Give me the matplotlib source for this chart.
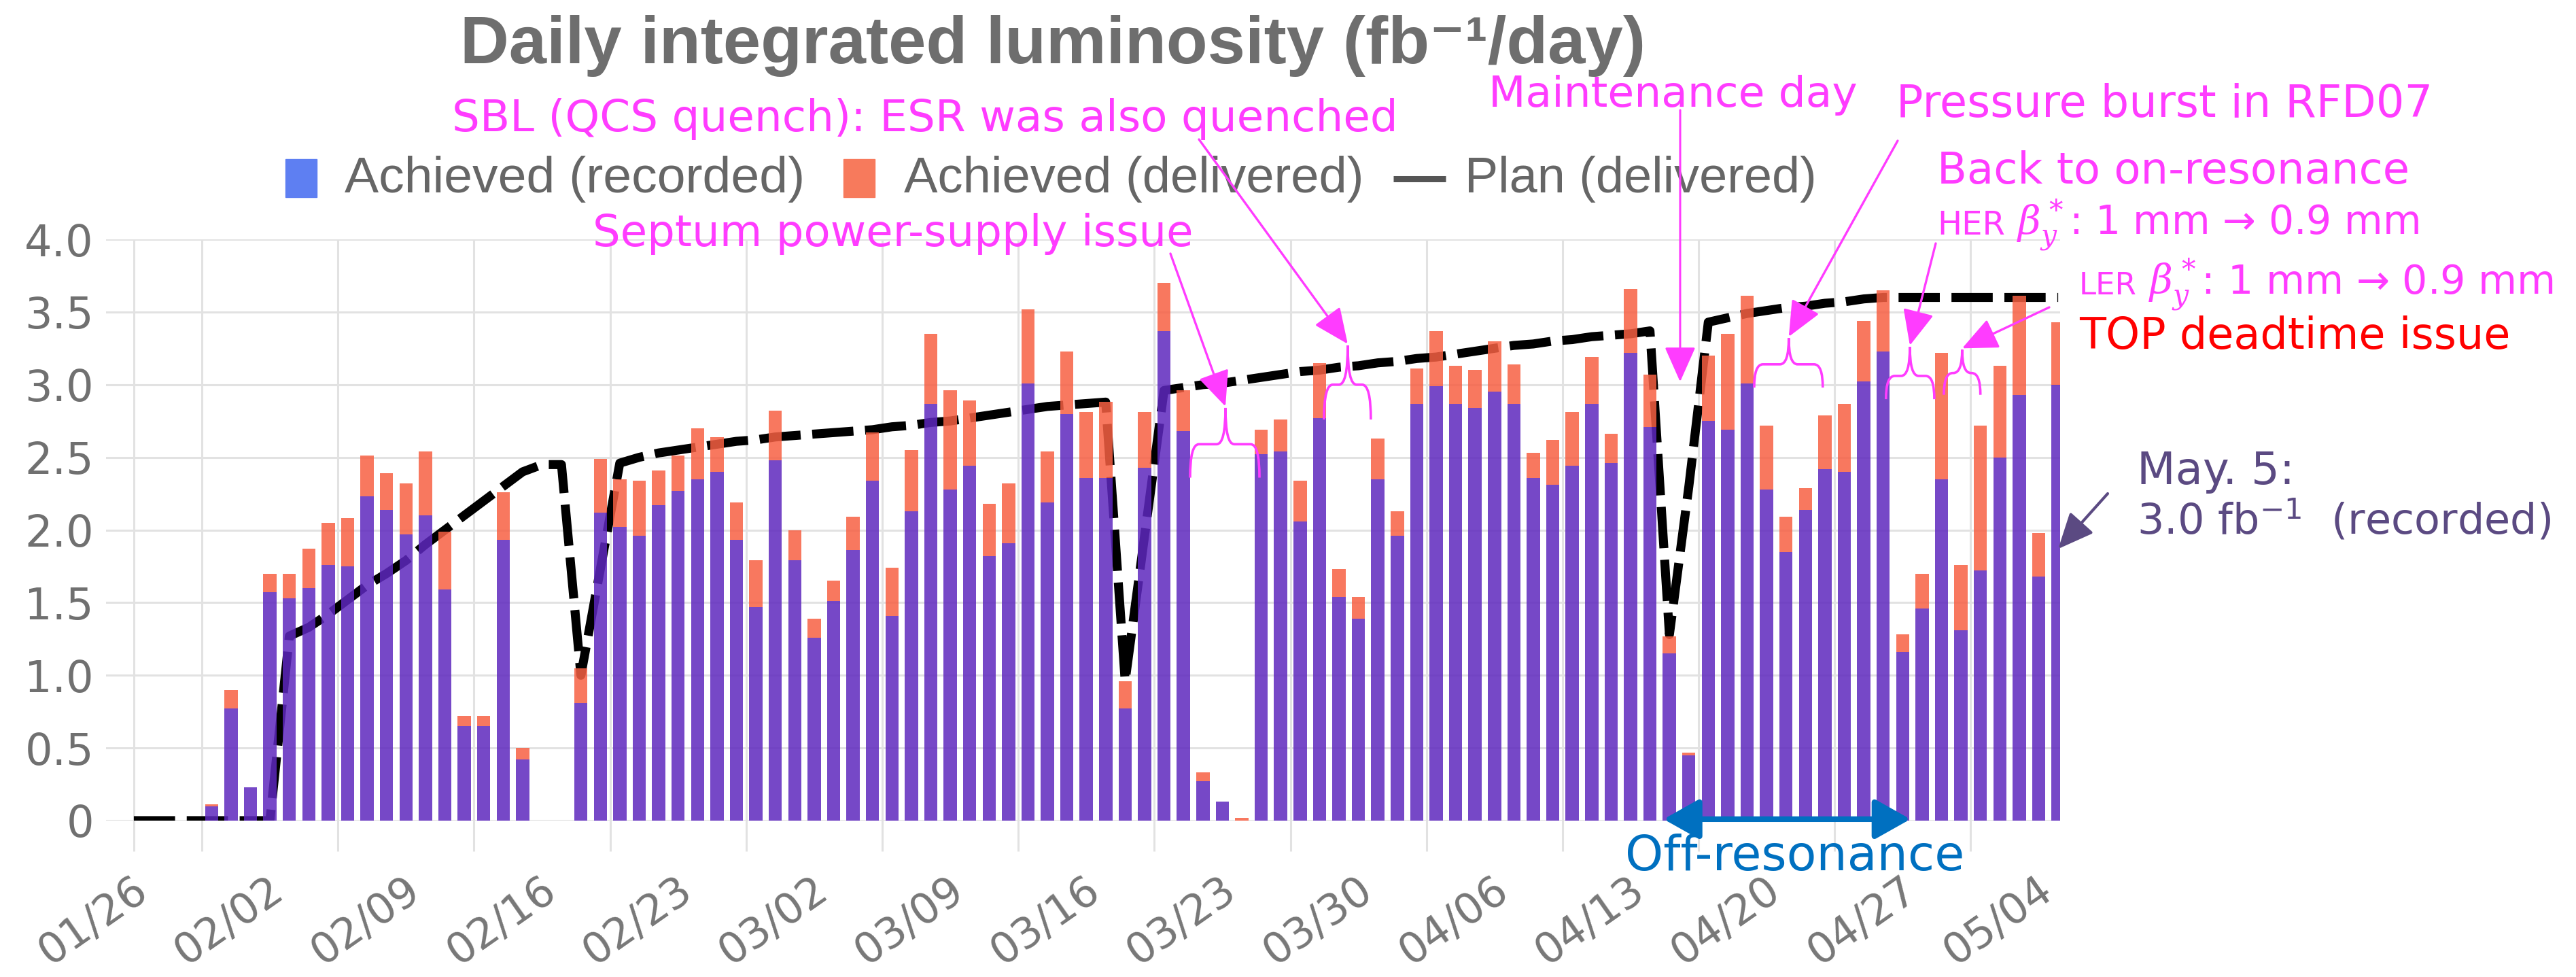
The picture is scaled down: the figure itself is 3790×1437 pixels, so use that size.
import numpy as np
import matplotlib
matplotlib.use('Agg')
import matplotlib.pyplot as plt
from matplotlib.path import Path
from matplotlib.patches import PathPatch, Rectangle

plt.rcParams['font.family'] = ['DejaVu Sans']
plt.rcParams['mathtext.fontset'] = 'dejavuserif'

W, H, DPI = 3791, 1437, 100

# ---------------- data ----------------
tick_labels = ['01/26', '02/02', '02/09', '02/16', '02/23', '03/02', '03/09', '03/16',
               '03/23', '03/30', '04/06', '04/13', '04/20', '04/27', '05/04']

# daily values (fb^-1/day), one entry per day, first bar = day 0
delivered = [0.11, 0.90, 0.23, 1.70, 1.70, 1.87, 2.05, 2.08, 2.51, 2.39,
             2.32, 2.54, 1.99, 0.72, 0.72, 2.26, 0.50, 0.00, 0.00, 1.05,
             2.49, 2.35, 2.34, 2.41, 2.51, 2.70, 2.64, 2.19, 1.79, 2.82,
             2.00, 1.39, 1.65, 2.09, 2.67, 1.74, 2.55, 3.35, 2.96, 2.89,
             2.18, 2.32, 3.52, 2.54, 3.23, 2.81, 2.88, 0.96, 2.81, 3.70,
             2.96, 0.33, 0.13, 0.02, 2.69, 2.76, 2.34, 3.15, 1.73, 1.54,
             2.63, 2.13, 3.11, 3.37, 3.13, 3.10, 3.30, 3.14, 2.53, 2.62,
             2.81, 3.19, 2.66, 3.66, 3.07, 1.27, 0.47, 3.20, 3.35, 3.61,
             2.72, 2.09, 2.29, 2.79, 2.87, 3.44, 3.65, 1.28, 1.70, 3.22,
             1.76, 2.72, 3.13, 3.61, 1.98, 3.43]
recorded = [0.10, 0.77, 0.23, 1.57, 1.53, 1.60, 1.76, 1.75, 2.23, 2.14,
            1.97, 2.10, 1.59, 0.65, 0.65, 1.93, 0.42, 0.00, 0.00, 0.81,
            2.12, 2.02, 1.96, 2.17, 2.27, 2.35, 2.40, 1.93, 1.47, 2.48,
            1.79, 1.26, 1.51, 1.86, 2.34, 1.41, 2.13, 2.87, 2.28, 2.44,
            1.82, 1.91, 3.01, 2.19, 2.80, 2.36, 2.36, 0.77, 2.43, 3.37,
            2.68, 0.27, 0.13, 0.00, 2.52, 2.54, 2.06, 2.77, 1.54, 1.39,
            2.35, 1.96, 2.87, 2.99, 2.87, 2.84, 2.95, 2.87, 2.36, 2.31,
            2.44, 2.87, 2.46, 3.22, 2.71, 1.15, 0.45, 2.75, 2.69, 3.01,
            2.28, 1.85, 2.14, 2.42, 2.40, 3.02, 3.23, 1.16, 1.46, 2.35,
            1.31, 1.72, 2.50, 2.93, 1.68, 3.00]
plan_first_day = -4
plan = [0, 0, 0, 0, 0, 0, 0, 0,
        1.27, 1.33, 1.42, 1.52, 1.62, 1.70, 1.79, 1.90, 2.00, 2.10,
        2.20, 2.30, 2.40, 2.45, 2.45, 1.00, 1.73, 2.46, 2.50, 2.53,
        2.55, 2.57, 2.59, 2.61, 2.62, 2.64, 2.65, 2.66, 2.67, 2.68,
        2.69, 2.71, 2.72, 2.74, 2.75, 2.77, 2.79, 2.81, 2.83, 2.85,
        2.86, 2.87, 2.88, 0.96, 1.96, 2.96, 2.98, 3.00, 3.01, 3.03,
        3.05, 3.07, 3.09, 3.10, 3.12, 3.13, 3.15, 3.16, 3.18, 3.19,
        3.21, 3.23, 3.25, 3.27, 3.28, 3.30, 3.31, 3.33, 3.34, 3.35,
        3.37, 1.28, 2.30, 3.43, 3.46, 3.49, 3.51, 3.53, 3.54, 3.56,
        3.57, 3.59, 3.60, 3.60, 3.60, 3.60, 3.60, 3.60, 3.60, 3.60,
        3.60, 3.60]

# ---------------- styles ----------------
PURPLE = '#5E28BE'
SALMON = '#F76043'
BAR_ALPHA = 0.85
MAG = '#FF3CFF'
GRID = '#e2e2e2'
GRAY = '#6e6e6e'

fig = plt.figure(figsize=(W / DPI, H / DPI), dpi=DPI)
ax = fig.add_axes([156 / W, 1 - 1207 / H, (3031 - 156) / W, (1207 - 352) / H])
ov = fig.add_axes([0, 0, 1, 1], zorder=10)
ov.set_xlim(0, W)
ov.set_ylim(H, 0)
ov.axis('off')
ov.patch.set_alpha(0)

renderer = fig.canvas.get_renderer()


def fit(t, width):
    bb = t.get_window_extent(renderer)
    t.set_fontsize(t.get_fontsize() * width / bb.width)
    return t


def T(x, y, s, width, color, family='DejaVu Sans', weight='normal', ha='left', va='baseline'):
    t = ov.text(x, y, s, color=color, family=family, weight=weight, ha=ha, va=va, fontsize=40)
    return fit(t, width)


def px(u, v):
    return tuple(ov.transData.inverted().transform(ax.transData.transform((u, v))))


# ---------------- main plot ----------------
days = np.arange(len(recorded))
xb = days + 0.5
rec = np.array(recorded)
dele = np.array(delivered)
plan_x = np.arange(plan_first_day, plan_first_day + len(plan)) + 0.5

ax.set_xlim(-4.93, 95.6)
ax.set_ylim(0, 4.0)
for s in ax.spines.values():
    s.set_visible(False)

ax.set_yticks(np.arange(0, 4.01, 0.5))
ax.set_yticklabels(['0', '0.5', '1.0', '1.5', '2.0', '2.5', '3.0', '3.5', '4.0'])
ax.yaxis.grid(True, color=GRID, lw=2.2)
ax.set_axisbelow(True)
ax.tick_params(axis='y', length=0, pad=13, labelsize=46, labelcolor='#707070')
ax.set_xticks([])

grid_days = [-3.5] + list(range(0, 92, 7))
ax.vlines(grid_days, -0.21, 4.0, colors=GRID, lw=2.2, clip_on=False, zorder=0)

ax.plot(plan_x, plan, color='black', lw=9.5, ls=(0, (4.6, 1.3)), zorder=2,
        solid_joinstyle='round', dash_capstyle='butt')

ax.bar(xb, rec, width=0.68, color=PURPLE, alpha=BAR_ALPHA, zorder=3, lw=0)
ax.bar(xb, dele - rec, bottom=rec, width=0.68, color=SALMON, alpha=BAR_ALPHA, zorder=3, lw=0)

for k, lab in enumerate(tick_labels):
    ax.text(7 * k - 3.0, -0.45, lab, rotation=35, rotation_mode='anchor', ha='right',
            va='center', fontsize=45, color='#777777', clip_on=False)

# ---------------- title & legend ----------------
T(677, 93, 'Daily integrated luminosity (fb⁻¹/day)', 1741, GRAY,
  family=['Liberation Sans', 'DejaVu Sans'], weight='bold')
ov.add_patch(Rectangle((420, 234), 46, 56, color='#5E7FF2'))
T(507, 283, 'Achieved (recorded)', 676, '#666666', family=['Liberation Sans', 'DejaVu Sans'])
ov.add_patch(Rectangle((1241, 234), 46, 56, color='#F77A5C'))
T(1330, 283, 'Achieved (delivered)', 676, '#666666', family=['Liberation Sans', 'DejaVu Sans'])
ov.plot([2050, 2127], [263, 263], color='#555555', lw=6.5, solid_capstyle='butt')
T(2155, 283, 'Plan (delivered)', 517, '#666666', family=['Liberation Sans', 'DejaVu Sans'])

# ---------------- annotations ----------------
T(665, 193, 'SBL (QCS quench): ESR was also quenched', 1390, MAG)
T(872, 362, 'Septum power-supply issue', 883, MAG)
T(2190, 157, 'Maintenance day', 542, MAG)
T(2790, 172, 'Pressure burst in RFD07', 788, MAG)
T(2850, 270, 'Back to on-resonance', 694, MAG)
T(2850, 345, 'HER', 100, MAG)
T(2967, 345, r'$\beta_y^*$: 1 mm → 0.9 mm', 592, MAG)
T(3059, 433, 'LER', 85, MAG)
T(3161, 433, r'$\beta_y^*$: 1 mm → 0.9 mm', 595, MAG)
T(3059, 513, 'TOP deadtime issue', 633, '#FF0000')
T(3144, 712, 'May. 5:', 232, '#5B4A82')
T(3144, 785, r'3.0 fb$^{\mathsf{-1}}$  (recorded)', 609, '#5B4A82')
T(2391, 1280, 'Off-resonance', 499, '#0070C0')


def brace(u0, u1, uc, vb, vm, vt):
    r = 0.45
    verts = [(u0, vb), (u0, vm), (u0 + r, vm), (uc - r, vm), (uc, vm), (uc, vt),
             (u1, vb), (u1, vm), (u1 - r, vm), (uc + r, vm), (uc, vm), (uc, vt)]
    codes = [Path.MOVETO, Path.CURVE3, Path.CURVE3, Path.LINETO, Path.CURVE3, Path.CURVE3] * 2
    ax.add_patch(PathPatch(Path(verts, codes), fill=False, edgecolor=MAG, lw=2.6,
                           zorder=6, clip_on=False))


braces = {
    'septum': (50.84, 54.41, 52.66, 2.36, 2.59, 2.84),
    'sbl': (57.73, 60.14, 58.95, 2.76, 3.00, 3.27),
    'pressure': (79.86, 83.39, 81.64, 2.98, 3.14, 3.32),
    'her': (86.64, 89.13, 87.87, 2.90, 3.06, 3.26),
    'ler': (89.62, 91.50, 90.56, 2.93, 3.08, 3.24),
}
for b in braces.values():
    brace(*b)

arrow_starts = {
    'septum': (1722, 373),
    'sbl': (1764, 205),
    'pressure': (2792, 207),
    'her': (2848, 358),
    'ler': (3015, 452),
}
for key, start in arrow_starts.items():
    u0, u1, uc, vb, vm, vt = braces[key]
    ov.annotate('', xy=px(uc, vt + 0.01), xytext=start,
                arrowprops=dict(arrowstyle='-|>,head_length=0.9,head_width=0.4', color=MAG,
                                lw=2.4, mutation_scale=36, shrinkA=0, shrinkB=0))

# maintenance day arrow
ov.annotate('', xy=px(76.05, 3.02), xytext=(2472, 162),
            arrowprops=dict(arrowstyle='-|>,head_length=0.9,head_width=0.4', color=MAG,
                            lw=2.2, mutation_scale=36, shrinkA=0, shrinkB=0))

# May 5 arrow
ov.annotate('', xy=px(95.5, 1.87), xytext=(3101, 726),
            arrowprops=dict(arrowstyle='-|>,head_length=0.9,head_width=0.4', color='#5B4A82',
                            lw=3, mutation_scale=36, shrinkA=0, shrinkB=0))

# off-resonance double arrow
ov.annotate('', xy=px(87.9, 0.01), xytext=px(75.2, 0.01),
            arrowprops=dict(arrowstyle='<|-|>,head_length=0.8,head_width=0.45', color='#0070C0',
                            lw=6, mutation_scale=40, shrinkA=0, shrinkB=0))

fig.savefig('out.png', dpi=DPI)
